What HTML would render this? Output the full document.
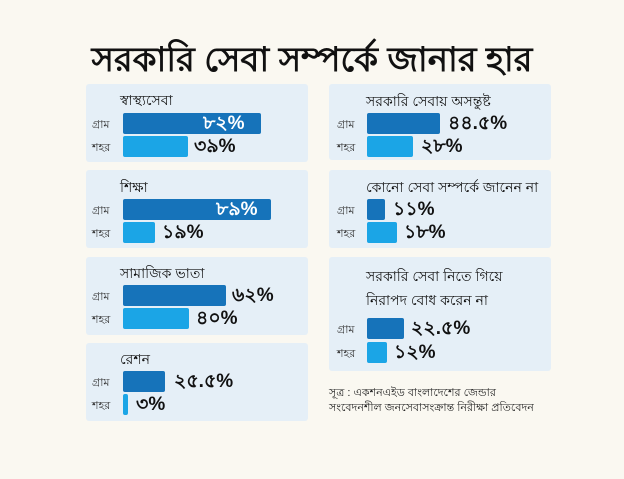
<!DOCTYPE html>
<html><head><meta charset="utf-8"><style>
body{margin:0;width:624px;height:479px;background:#faf8f1;position:relative;overflow:hidden;font-family:"Liberation Sans","DejaVu Sans",sans-serif;color:#111}
.p{position:absolute;background:#e5eff7;border-radius:3px}
.t{position:absolute;font-size:14px;white-space:nowrap}
.l{position:absolute;font-size:11px;color:#333}
.b{position:absolute;height:21px;border-radius:2px}
.d{background:#1673ba}.c{background:#1ba5e6}
.v{position:absolute;font-size:19px;font-weight:bold;white-space:nowrap;line-height:21px}
.w{color:#fff}
</style></head><body>
<div class="t" style="left:0;width:624px;text-align:center;top:34px;font-size:34px;font-weight:bold">সরকারি সেবা সম্পর্কে জানার হার</div>

<div class="p" style="left:86px;top:84px;width:222px;height:78px"></div>
<div class="t" style="left:120px;top:89px">স্বাস্থ্যসেবা</div>
<div class="l" style="left:92px;top:116px">গ্রাম</div><div class="b d" style="left:123px;top:113px;width:138px"></div><div class="v w" style="left:203px;top:113px">৮২%</div>
<div class="l" style="left:92px;top:139px">শহর</div><div class="b c" style="left:123px;top:136px;width:65px"></div><div class="v" style="left:194px;top:136px">৩৯%</div>

<div class="p" style="left:86px;top:170px;width:222px;height:78px"></div>
<div class="t" style="left:120px;top:176px">শিক্ষা</div>
<div class="l" style="left:92px;top:202px">গ্রাম</div><div class="b d" style="left:123px;top:199px;width:148px"></div><div class="v w" style="left:216px;top:199px">৮৯%</div>
<div class="l" style="left:92px;top:225px">শহর</div><div class="b c" style="left:123px;top:222px;width:32px"></div><div class="v" style="left:162px;top:222px">১৯%</div>

<div class="p" style="left:86px;top:257px;width:222px;height:78px"></div>
<div class="t" style="left:120px;top:262px">সামাজিক ভাতা</div>
<div class="l" style="left:92px;top:288px">গ্রাম</div><div class="b d" style="left:123px;top:285px;width:103px"></div><div class="v" style="left:232px;top:285px">৬২%</div>
<div class="l" style="left:92px;top:311px">শহর</div><div class="b c" style="left:123px;top:308px;width:66px"></div><div class="v" style="left:196px;top:308px">৪০%</div>

<div class="p" style="left:86px;top:343px;width:222px;height:78px"></div>
<div class="t" style="left:120px;top:348px">রেশন</div>
<div class="l" style="left:92px;top:374px">গ্রাম</div><div class="b d" style="left:123px;top:371px;width:42px"></div><div class="v" style="left:174px;top:371px">২৫.৫%</div>
<div class="l" style="left:92px;top:397px">শহর</div><div class="b c" style="left:123px;top:394px;width:5px"></div><div class="v" style="left:136px;top:394px">৩%</div>

<div class="p" style="left:329px;top:84px;width:222px;height:76px"></div>
<div class="t" style="left:366px;top:90px">সরকারি সেবায় অসন্তুষ্ট</div>
<div class="l" style="left:337px;top:116px">গ্রাম</div><div class="b d" style="left:367px;top:113px;width:73px"></div><div class="v" style="left:448px;top:113px">৪৪.৫%</div>
<div class="l" style="left:337px;top:139px">শহর</div><div class="b c" style="left:367px;top:136px;width:46px"></div><div class="v" style="left:421px;top:136px">২৮%</div>

<div class="p" style="left:329px;top:170px;width:222px;height:78px"></div>
<div class="t" style="left:366px;top:176px">কোনো সেবা সম্পর্কে জানেন না</div>
<div class="l" style="left:337px;top:202px">গ্রাম</div><div class="b d" style="left:367px;top:199px;width:18px"></div><div class="v" style="left:393px;top:199px">১১%</div>
<div class="l" style="left:337px;top:225px">শহর</div><div class="b c" style="left:367px;top:222px;width:30px"></div><div class="v" style="left:404px;top:222px">১৮%</div>

<div class="p" style="left:329px;top:257px;width:222px;height:114px"></div>
<div class="t" style="left:366px;top:264px;line-height:24px">সরকারি সেবা নিতে গিয়ে<br>নিরাপদ বোধ করেন না</div>
<div class="l" style="left:337px;top:321px">গ্রাম</div><div class="b d" style="left:367px;top:318px;width:37px"></div><div class="v" style="left:411px;top:318px">২২.৫%</div>
<div class="l" style="left:337px;top:345px">শহর</div><div class="b c" style="left:367px;top:342px;width:20px"></div><div class="v" style="left:394px;top:342px">১২%</div>

<div class="l" style="left:329px;top:386px;line-height:15px;color:#222">সূত্র : একশনএইড বাংলাদেশের জেন্ডার<br>সংবেদনশীল জনসেবাসংক্রান্ত নিরীক্ষা প্রতিবেদন</div>
</body></html>
